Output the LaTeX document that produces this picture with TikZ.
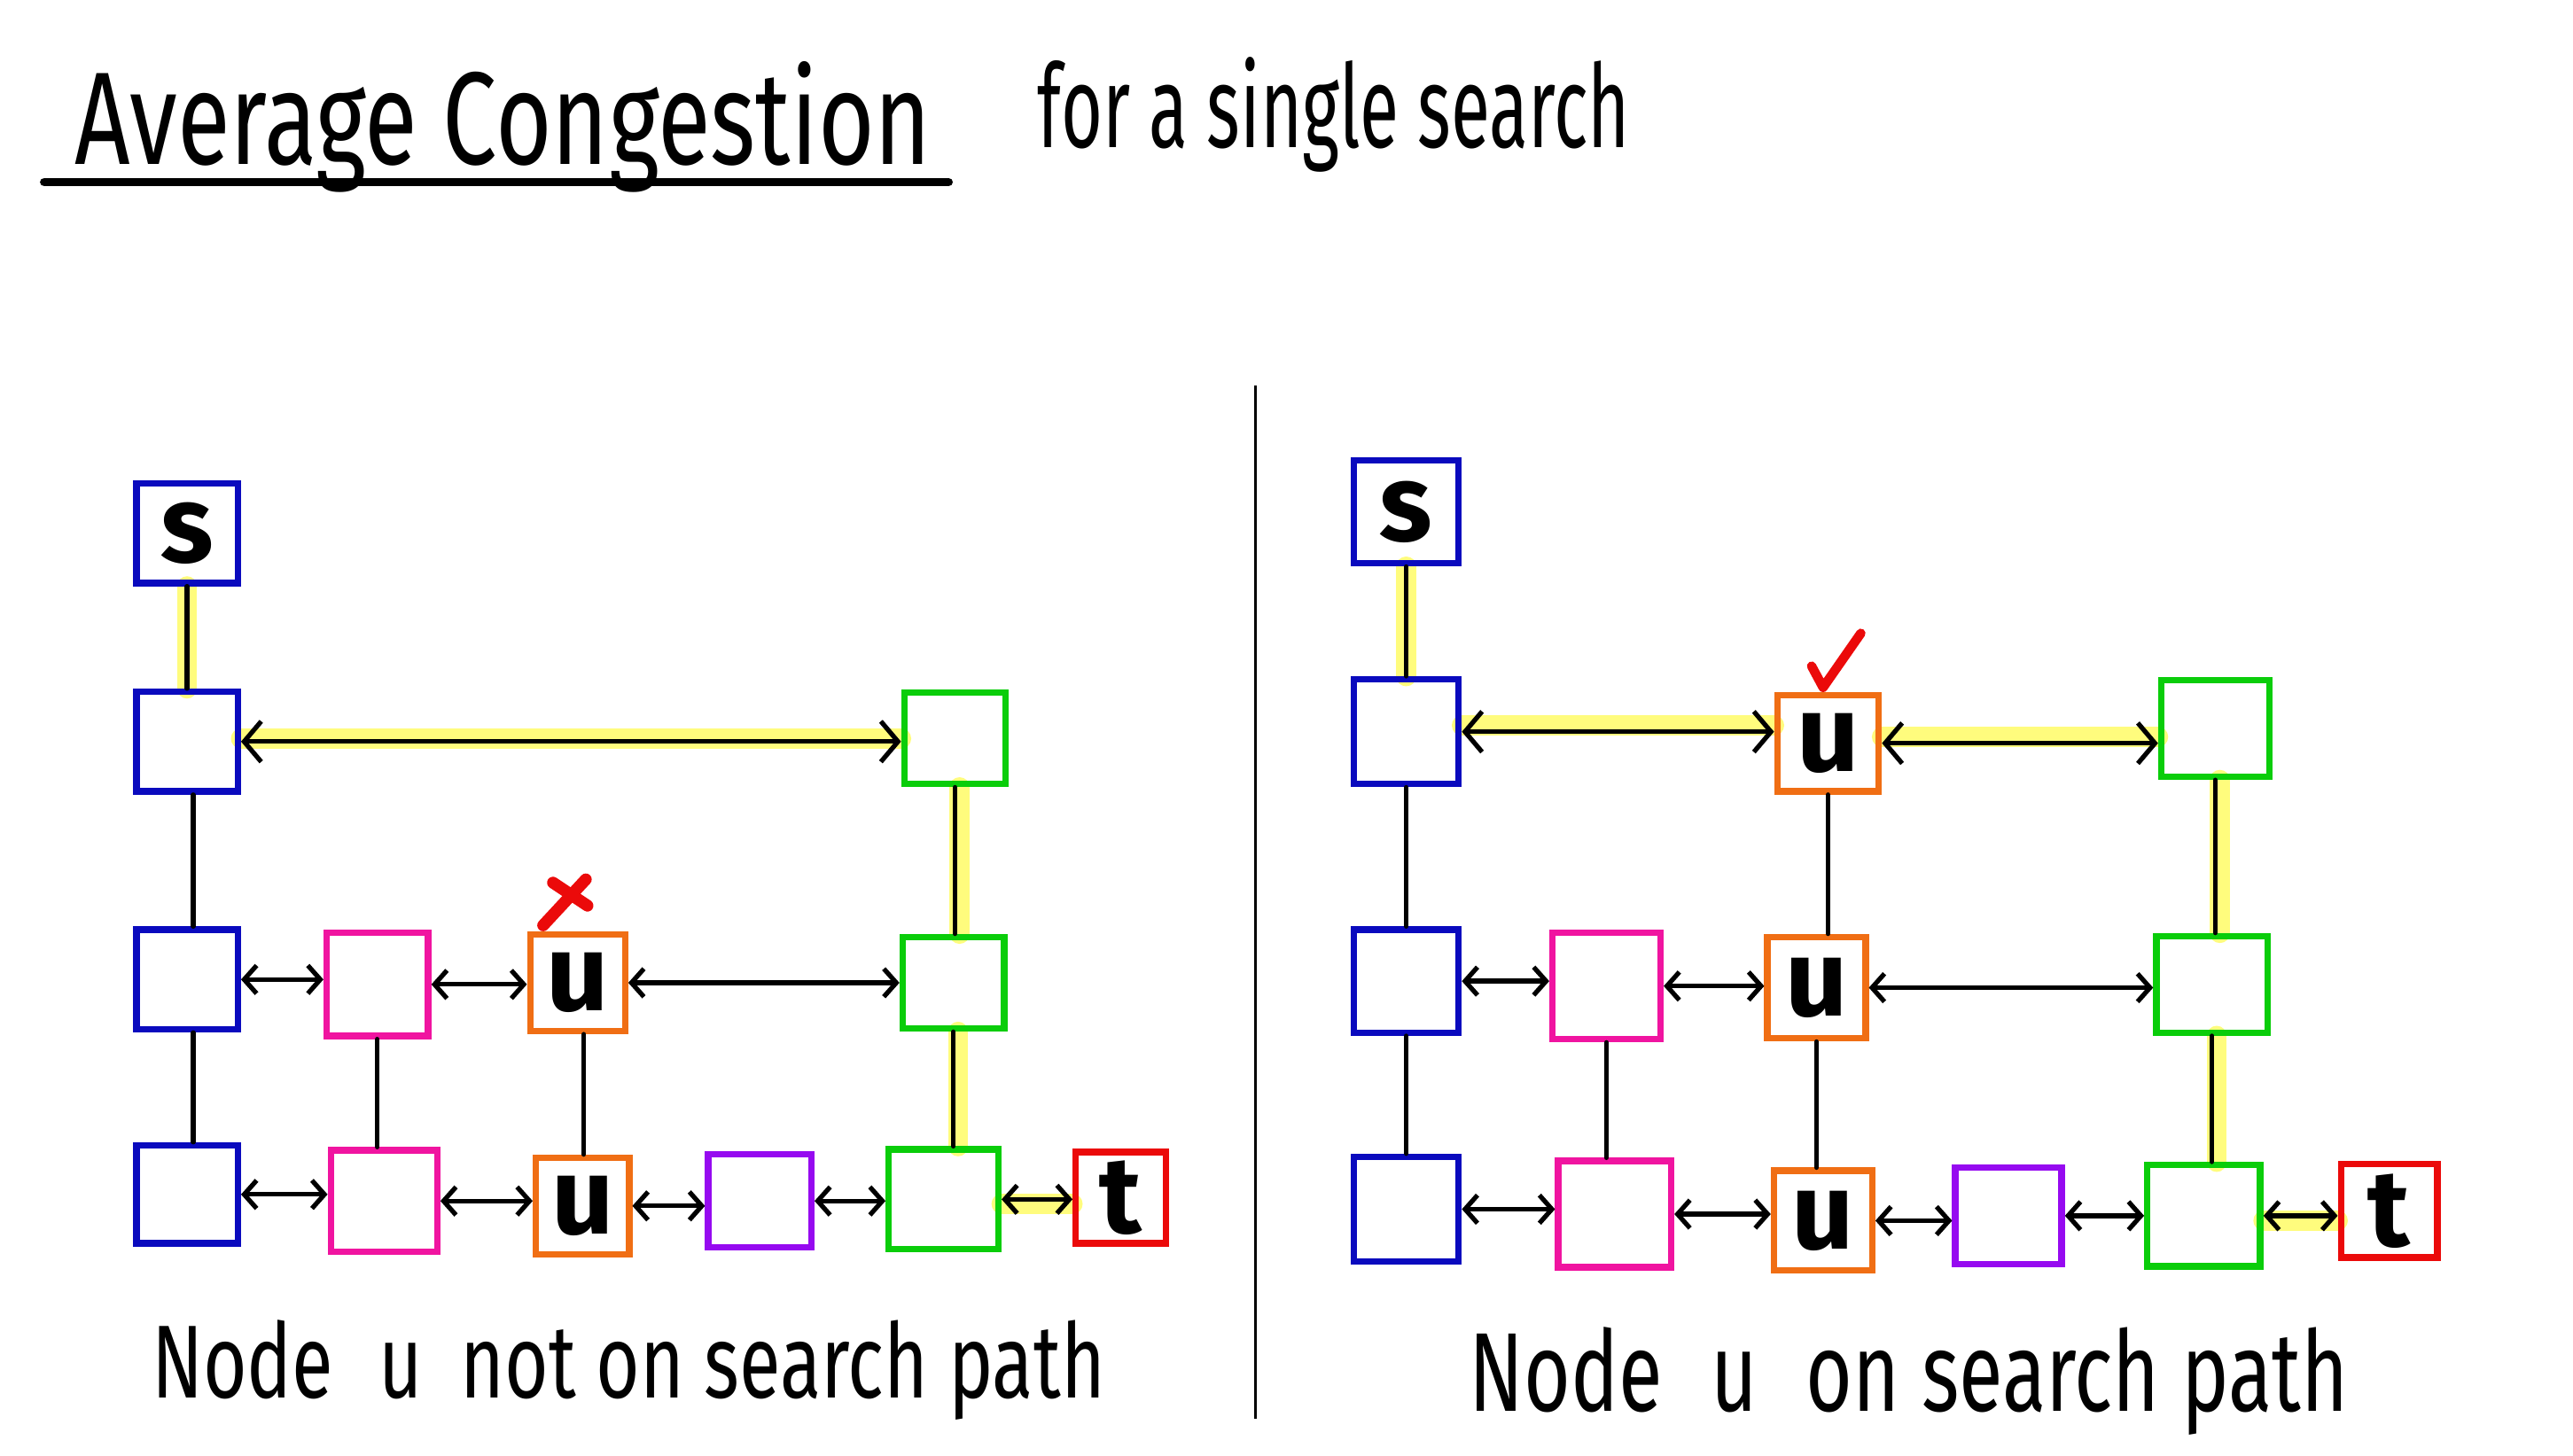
\documentclass[tikz,border=0pt]{standalone}
\usepackage{fontspec}
\usepackage{graphicx}
\setmainfont{Fira Sans}
\usetikzlibrary{arrows.meta,calc}
\definecolor{cblue}{RGB}{10,10,190}
\definecolor{cpink}{RGB}{240,20,160}
\definecolor{corange}{RGB}{240,110,20}
\definecolor{cgreen}{RGB}{10,205,10}
\definecolor{cpurple}{RGB}{150,10,240}
\definecolor{cred}{RGB}{235,10,10}
\definecolor{hl}{RGB}{255,252,125}
\pgfdeclarelayer{background}
\pgfsetlayers{background,main}
\begin{document}
\begin{tikzpicture}[x=0.018514cm,y=-0.018514cm,
 bx/.style={line width=2.1pt, inner sep=0pt, font=\fontsize{35}{35}\selectfont\bfseries},
 sz/.style 2 args={minimum width={#1*0.5248pt}, minimum height={#2*0.5248pt}},
 lk/.style={line width=1.5pt, line cap=round},
 ar/.style={line width=1.5pt, {Straight Barb[length=4pt,width=9pt]}-{Straight Barb[length=4pt,width=9pt]}},
 bar/.style={line width=1.5pt, {Straight Barb[length=5.5pt,width=13pt]}-{Straight Barb[length=5.5pt,width=13pt]}},
 hlt/.style={line width=6.5pt, draw=hl, line cap=round},
 redmark/.style={draw=cred, line cap=round, line join=round},
 txt/.style={anchor=base west, inner sep=0pt}
 ]
\useasboundingbox (0,0) rectangle (1568,887);

% title
\node[txt] (title) at (45,100) {\resizebox{275pt}{33pt}{Average Congestion}};
\draw[line width=2.8pt, line cap=round] (27,111) -- (578,111);
\node[txt] (sub) at (632,90) {\resizebox{190pt}{29pt}{for a single search}};

% divider
\draw[line width=1pt] (765,235) -- (765,865);

% ---------- left diagram ----------
\node[bx, draw=cblue, sz={62}{61}] (Ls) at (114,325) {s};
\node[bx, draw=cblue, sz={62}{61}] (L1b) at (114,452) {};
\node[bx, draw=cgreen, sz={62}{56}] (L1g) at (582,450) {};
\node[bx, draw=cblue, sz={62}{61}] (L2b) at (114,597) {};
\node[bx, draw=cpink, sz={62}{63}] (L2p) at (230,600) {};
\node[bx, draw=corange, sz={58}{59}] (L2u) at (352,599) {u};
\node[bx, draw=cgreen, sz={62}{56}] (L2g) at (581,599) {};
\node[bx, draw=cblue, sz={62}{60}] (L3b) at (114,728) {};
\node[bx, draw=cpink, sz={65}{62}] (L3p) at (234,732) {};
\node[bx, draw=corange, sz={57}{59}] (L3u) at (355,735) {u};
\node[bx, draw=cpurple, sz={63}{57}] (L3v) at (463,732) {};
\node[bx, draw=cgreen, sz={67}{61}] (L3g) at (575,731) {};
\node[bx, draw=cred, sz={55}{56}] (L3t) at (683,730) {t};

\begin{pgfonlayer}{background}
\draw[hlt] (Ls.south) -- (Ls.south |- L1b.north);
\draw[hlt] ([yshift=1pt]L1b.east) -- ([yshift=1pt]L1b.east -| L1g.west);
\draw[hlt] ([xshift=1.5pt]L1g.south) -- ([xshift=1.5pt]L1g.south |- L2g.north);
\draw[hlt] ([xshift=1.5pt]L2g.south) -- ([xshift=1.5pt]L2g.south |- L3g.north);
\draw[hlt] ([yshift=-1.5pt]L3g.east) -- ([yshift=-1.5pt]L3g.east -| L3t.west);
\end{pgfonlayer}

\draw[lk] (Ls.south) -- (Ls.south |- L1b.north);
\draw[bar] (L1b.east) -- (L1b.east -| L1g.west);
\draw[lk] ([xshift=2pt]L1b.south) -- ([xshift=2pt]L1b.south |- L2b.north);
\draw[lk] (L1g.south) -- (L1g.south |- L2g.north);
\draw[ar] (L2b.east) -- (L2b.east -| L2p.west);
\draw[ar] (L2p.east) -- (L2p.east -| L2u.west);
\draw[ar] (L2u.east) -- (L2u.east -| L2g.west);
\draw[lk] ([xshift=2pt]L2b.south) -- ([xshift=2pt]L2b.south |- L3b.north);
\draw[lk] (L2p.south) -- (L2p.south |- L3p.north);
\draw[lk] ([xshift=2pt]L2u.south) -- ([xshift=2pt]L2u.south |- L3u.north);
\draw[lk] (L2g.south) -- (L2g.south |- L3g.north);
\draw[ar] (L3b.east) -- (L3b.east -| L3p.west);
\draw[ar] (L3p.east) -- (L3p.east -| L3u.west);
\draw[ar] (L3u.east) -- (L3u.east -| L3v.west);
\draw[ar] (L3v.east) -- (L3v.east -| L3g.west);
\draw[ar] (L3g.east) -- (L3g.east -| L3t.west);

% red cross
\draw[redmark, line width=3.8pt] (331,564) -- (357,536);
\draw[redmark, line width=3.8pt] (337,538) -- (358,552);

\node[txt] (capL) at (92,852) {\resizebox{306pt}{25pt}{Node\hspace{0.6em}u\hspace{0.5em}not on search path}};

% ---------- right diagram ----------
\node[bx, draw=cblue, sz={64}{63}] (Rs) at (857,312) {s};
\node[bx, draw=cblue, sz={64}{64}] (R1b) at (857,446) {};
\node[bx, draw=corange, sz={62}{59}] (R1u) at (1114,453) {u};
\node[bx, draw=cgreen, sz={66}{59}] (R1g) at (1350,444) {};
\node[bx, draw=cblue, sz={64}{63}] (R2b) at (857,598) {};
\node[bx, draw=cpink, sz={66}{65}] (R2p) at (979,601) {};
\node[bx, draw=corange, sz={60}{62}] (R2u) at (1107,602) {u};
\node[bx, draw=cgreen, sz={68}{59}] (R2g) at (1348,600) {};
\node[bx, draw=cblue, sz={64}{64}] (R3b) at (857,737) {};
\node[bx, draw=cpink, sz={69}{65}] (R3p) at (984,740) {};
\node[bx, draw=corange, sz={60}{61}] (R3u) at (1111,744) {u};
\node[bx, draw=cpurple, sz={65}{59}] (R3v) at (1224,741) {};
\node[bx, draw=cgreen, sz={69}{62}] (R3g) at (1343,741) {};
\node[bx, draw=cred, sz={59}{57}] (R3t) at (1456,738) {t};

\begin{pgfonlayer}{background}
\draw[hlt] (Rs.south) -- (Rs.south |- R1b.north);
\draw[hlt] ([yshift=2pt]R1b.east) -- ([yshift=2pt]R1b.east -| R1u.west);
\draw[hlt] ([yshift=2pt]R1u.east) -- ([yshift=2pt]R1u.east -| R1g.west);
\draw[hlt] ([xshift=1.5pt]R1g.south) -- ([xshift=1.5pt]R1g.south |- R2g.north);
\draw[hlt] ([xshift=1.5pt]R2g.south) -- ([xshift=1.5pt]R2g.south |- R3g.north);
\draw[hlt] ([yshift=-1.5pt]R3g.east) -- ([yshift=-1.5pt]R3g.east -| R3t.west);
\end{pgfonlayer}

\draw[lk] (Rs.south) -- (Rs.south |- R1b.north);
\draw[bar] (R1b.east) -- (R1b.east -| R1u.west);
\draw[bar] (R1u.east) -- (R1u.east -| R1g.west);
\draw[lk] (R1b.south) -- (R1b.south |- R2b.north);
\draw[lk] (R1u.south) -- (R1u.south |- R2u.north);
\draw[lk] (R1g.south) -- (R1g.south |- R2g.north);
\draw[ar] (R2b.east) -- (R2b.east -| R2p.west);
\draw[ar] (R2p.east) -- (R2p.east -| R2u.west);
\draw[ar] (R2u.east) -- (R2u.east -| R2g.west);
\draw[lk] (R2b.south) -- (R2b.south |- R3b.north);
\draw[lk] (R2p.south) -- (R2p.south |- R3p.north);
\draw[lk] (R2u.south) -- (R2u.south |- R3u.north);
\draw[lk] (R2g.south) -- (R2g.south |- R3g.north);
\draw[ar] (R3b.east) -- (R3b.east -| R3p.west);
\draw[ar] (R3p.east) -- (R3p.east -| R3u.west);
\draw[ar] (R3u.east) -- (R3u.east -| R3v.west);
\draw[ar] (R3v.east) -- (R3v.east -| R3g.west);
\draw[ar] (R3g.east) -- (R3g.east -| R3t.west);

% red check
\draw[redmark, line width=3pt] (1104,406) -- (1111,419) -- (1134,386);

\node[txt] (capR) at (895,860) {\resizebox{282pt}{27pt}{Node\hspace{0.6em}u\hspace{0.6em}on search path}};
\end{tikzpicture}
\end{document}
